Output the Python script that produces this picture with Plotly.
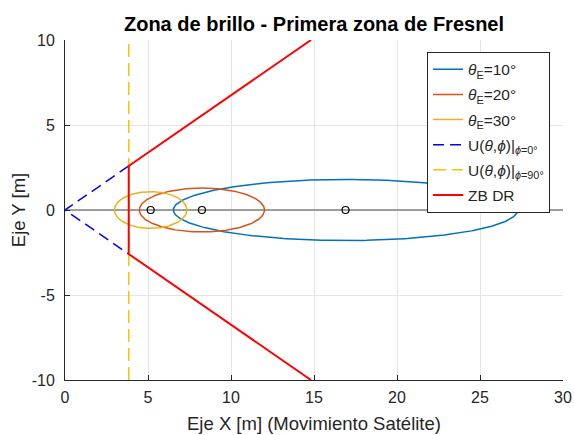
import numpy as np
import plotly.graph_objects as go

# ---- data ----
elev_labels = ["<i>θ</i><sub>E</sub>=10°", "<i>θ</i><sub>E</sub>=20°", "<i>θ</i><sub>E</sub>=30°"]
ell_cx = [16.9, 8.25, 5.16]      # ellipse centres (x)
ell_a = [10.37, 3.77, 2.18]      # semi-major axes
ell_b = [1.80, 1.29, 1.08]       # semi-minor axes
ell_colors = ["#0072BD", "#D95319", "#EDB120"]

cut_x = 3.84                     # x of the phi=90 cut
cut_y = 2.59                     # half-height at the cut
edge_x = 14.82                   # x where the edge lines reach |y|=10
edge_y = 10.0

axis_x = [0, 30]
axis_y = [0, 0]

x_ticks = [0, 5, 10, 15, 20, 25, 30]
y_ticks = [-10, -5, 0, 5, 10]
y_tick_text = ["-10", "-5", "0", "5", "10"]

fig = go.Figure()

# horizontal reference line
fig.add_trace(go.Scatter(x=axis_x, y=axis_y, mode="lines",
                         line=dict(color="#808080", width=1.5),
                         showlegend=False, hoverinfo="skip"))

t = np.linspace(0, 2 * np.pi, 361)
for i, (lab, cx, a, b, c) in enumerate(zip(elev_labels, ell_cx, ell_a, ell_b, ell_colors)):
    fig.add_trace(go.Scatter(x=cx + a * np.cos(t), y=b * np.sin(t), mode="lines",
                             line=dict(color=c, width=1.5), name=lab,
                             legendgroup=f"g{i}"))

# U(theta,phi) phi=0 (blue dashed)
fig.add_trace(go.Scatter(x=[cut_x, 0, cut_x], y=[cut_y, 0, -cut_y], mode="lines",
                         line=dict(color="#0000FF", width=1.5, dash="11px,6px"),
                         name="U(<i>θ</i>,<i>ϕ</i>)|<sub><i>ϕ</i>=0°</sub>",
                         legendgroup="g3"))
# U(theta,phi) phi=90 (yellow dashed)
fig.add_trace(go.Scatter(x=[cut_x, cut_x], y=[-10, 10], mode="lines",
                         line=dict(color="#FFC000", width=1.5, dash="13px,6px"),
                         name="U(<i>θ</i>,<i>ϕ</i>)|<sub><i>ϕ</i>=90°</sub>",
                         legendgroup="g4"))
# ZB DR
fig.add_trace(go.Scatter(x=[edge_x, cut_x, cut_x, edge_x],
                         y=[edge_y, cut_y, -cut_y, -edge_y], mode="lines",
                         line=dict(color="#FF0000", width=2), name="ZB DR",
                         legendgroup="g5"))

# centre markers
fig.add_trace(go.Scatter(x=ell_cx, y=[0] * len(ell_cx), mode="markers",
                         marker=dict(symbol="circle-open", size=7,
                                     color="black", line=dict(width=1.2)),
                         showlegend=False, hoverinfo="skip"))

font = "Liberation Sans, Arial, sans-serif"
fig.update_layout(
    width=574, height=435,
    margin=dict(l=64.5, r=11, t=40, b=55, autoexpand=False),
    paper_bgcolor="white", plot_bgcolor="white",
    font=dict(family=font, size=16, color="#262626"),
    title=dict(text="<b>Zona de brillo - Primera zona de Fresnel</b>",
               x=0.5, xref="paper", y=1 - 24 / 435, yref="container",
               yanchor="middle",
               font=dict(size=20, color="black", family=font)),
    legend=dict(x=0.727, y=0.9656, xanchor="left", yanchor="top",
                bgcolor="white", bordercolor="#262626", borderwidth=1,
                font=dict(size=15.5, color="#262626"), tracegroupgap=2,
                itemwidth=30),
    showlegend=True,
)
fig.update_xaxes(range=[0, 30], tickvals=x_ticks, showgrid=True,
                 gridcolor="#E5E5E5", gridwidth=1, zeroline=False,
                 showline=True, linecolor="#262626", linewidth=1,
                 ticks="inside", ticklen=5, tickcolor="#262626",
                 automargin=False, ticklabelstandoff=3,
                 title=dict(text="Eje X [m] (Movimiento Satélite)",
                            font=dict(size=18.5, color="#262626"), standoff=11))
fig.update_yaxes(range=[-10, 10], tickvals=y_ticks, ticktext=y_tick_text,
                 showgrid=True,
                 gridcolor="#E5E5E5", gridwidth=1, zeroline=False,
                 showline=True, linecolor="#262626", linewidth=1,
                 ticks="inside", ticklen=5, tickcolor="#262626",
                 automargin=False, ticklabelstandoff=6,
                 title=dict(text="Eje Y [m]", font=dict(size=18.5, color="#262626"),
                            standoff=1))

fig.write_html("out.html")
